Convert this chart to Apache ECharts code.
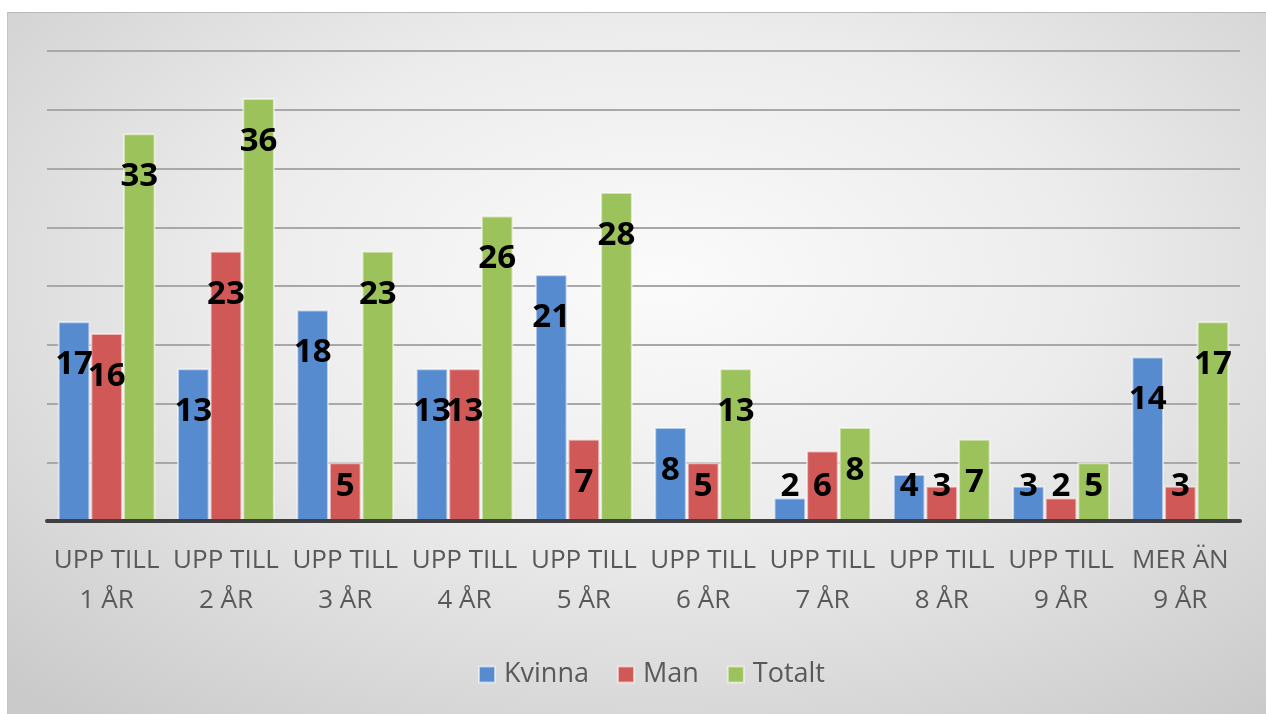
<!DOCTYPE html>
<html>
<head>
<meta charset="utf-8">
<script src="https://cdn.jsdelivr.net/npm/echarts@6/dist/echarts.min.js"></script>
<style>
  html, body { margin: 0; padding: 0; background: #fff; }
  #bg {
    position: absolute; left: 7px; top: 12px; width: 1259px; height: 702px;
    background: radial-gradient(ellipse 75% 80% at 52% 38%, #fbfbfb 0%, #ececec 45%, #cacaca 100%);
    border-top: 1px solid #b9b9b9; border-left: 1px solid #c4c4c4;
    box-sizing: border-box;
  }
  #main { position: absolute; left: 0; top: 0; width: 1266px; height: 714px; }
</style>
</head>
<body>
<div id="bg"></div>
<div id="main"></div>
<script>
const categories = ['UPP TILL\n1 ÅR', 'UPP TILL\n2 ÅR', 'UPP TILL\n3 ÅR', 'UPP TILL\n4 ÅR', 'UPP TILL\n5 ÅR',
  'UPP TILL\n6 ÅR', 'UPP TILL\n7 ÅR', 'UPP TILL\n8 ÅR', 'UPP TILL\n9 ÅR', 'MER ÄN\n9 ÅR']
const kvinna = [17, 13, 18, 13, 21, 8, 2, 4, 3, 14]
const man = [16, 23, 5, 13, 7, 5, 6, 3, 2, 3]
const totalt = [33, 36, 23, 26, 28, 13, 8, 7, 5, 17]

const font = '"Open Sans", "Noto Sans", sans-serif'

// short bars get their label pushed up from the base, like Excel does
const withLabels = values => values.map(v => ({
  value: v,
  label: v >= 7 ? { position: 'insideTop', distance: 27 } : { position: 'insideBottom', distance: 18 }
}))

const makeSeries = (name, values, color) => ({
  name,
  type: 'bar',
  data: withLabels(values),
  barGap: '0%',
  barCategoryGap: '18%',
  itemStyle: { color, borderColor: 'rgba(255,255,255,0.55)', borderWidth: 2 },
  label: {
    show: true,
    color: '#000',
    fontFamily: font,
    fontWeight: 'bold',
    fontSize: 33
  }
})

const chart = echarts.init(document.getElementById('main'))
chart.setOption({
  backgroundColor: 'transparent',
  animation: false,
  grid: { left: 47, right: 26, top: 51, bottom: 193 },
  legend: {
    top: 656,
    left: 473,
    icon: 'rect',
    itemWidth: 16,
    itemHeight: 16,
    itemGap: 28,
    textStyle: { color: '#595959', fontFamily: font, fontSize: 27, padding: [0, 0, 0, 4] },
    data: ['Kvinna', 'Man', 'Totalt']
  },
  xAxis: {
    type: 'category',
    data: categories,
    z: 5,
    axisLine: { lineStyle: { color: '#404040', width: 4 } },
    axisTick: { show: false },
    axisLabel: {
      interval: 0,
      margin: 20,
      color: '#595959',
      fontFamily: font,
      fontSize: 26,
      lineHeight: 40
    }
  },
  yAxis: {
    type: 'value',
    min: 0,
    max: 40,
    interval: 5,
    axisLabel: { show: false },
    axisLine: { show: false },
    axisTick: { show: false },
    splitLine: { lineStyle: { color: '#a8a8a8', width: 2 } }
  },
  series: [
    makeSeries('Kvinna', kvinna, '#578bcf'),
    makeSeries('Man', man, '#d05957'),
    makeSeries('Totalt', totalt, '#9cc25c')
  ]
})
</script>
</body>
</html>
